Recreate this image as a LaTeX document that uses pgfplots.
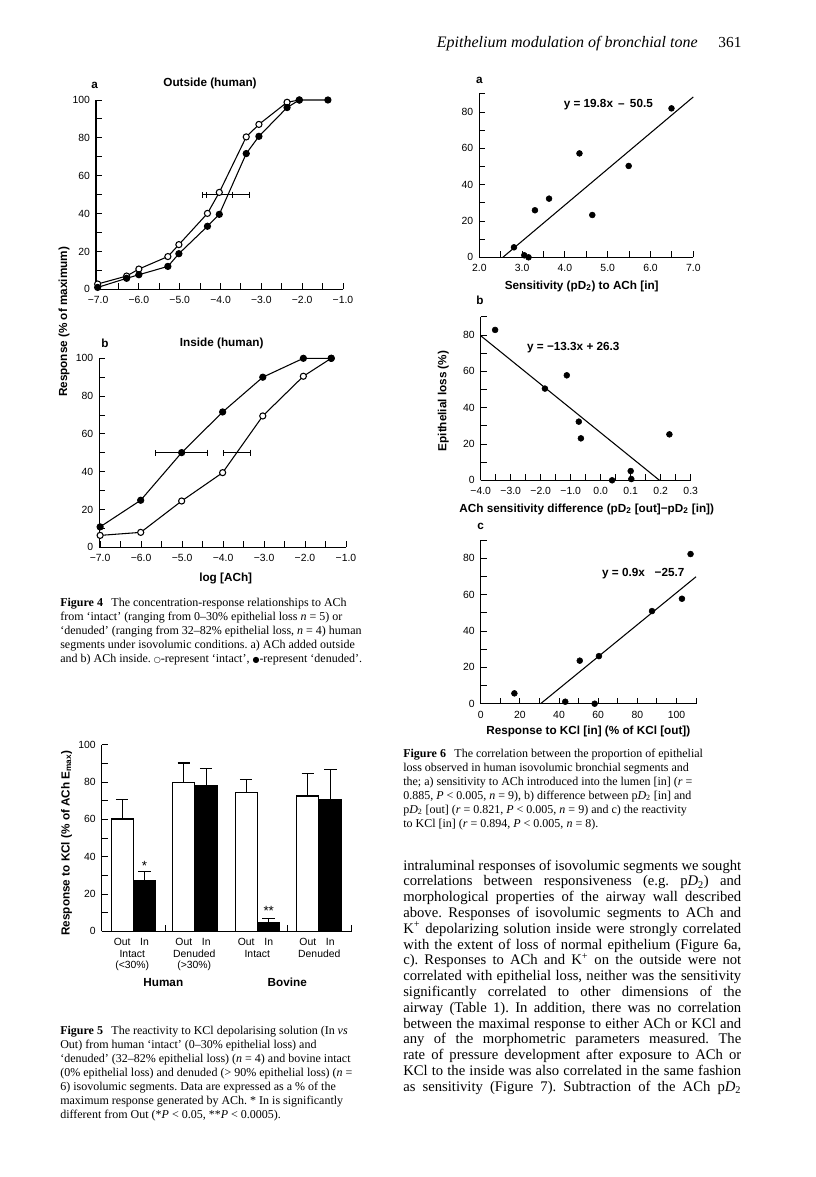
\documentclass[border=0pt]{standalone}
\usepackage{pgfplots}
\pgfplotsset{compat=1.18}
\usepackage{fontspec}
\setmainfont{Liberation Serif}
\setsansfont{Liberation Sans}
\newfontfamily\dejavu{DejaVu Sans}
\newcommand\tkf{\sffamily\fontsize{7.8}{9}\selectfont}
\newcommand\ttl{\sffamily\bfseries\fontsize{8.8}{10}\selectfont}
\pgfplotsset{
 base/.style={scale only axis, clip=false, anchor=south west,
   axis x line*=bottom, axis y line*=left,
   axis line style={-, line width=0.8pt},
   tick align=inside, major tick length=4.5pt, minor tick length=4.5pt,
   every tick/.append style={line width=0.7pt, black},
   tick label style={font=\tkf},
   xticklabel style={yshift=-2pt},
   yticklabel style={xshift=-1pt}},
 curve/.style={black, line width=0.8pt, mark=*, mark size=2.3pt},
 dots/.style={only marks, mark=*, mark size=2.2pt, black},
 reg/.style={black, line width=0.8pt, mark=none},
}
\frenchspacing
\begin{document}
\begin{tikzpicture}
\begin{scope}[x=0.75pt,y=-0.75pt]
\useasboundingbox (0,0) rectangle (816,1177);

% header
\node[anchor=base west, inner sep=0, font=\fontsize{12}{14}\selectfont\itshape] at (436.7,48) {Epithelium modulation of bronchial tone};
\node[anchor=base east, inner sep=0, font=\fontsize{11.5}{14}\selectfont] at (741.7,48) {361};

\node[font=\ttl] at (94.7,85) {a};
\node[font=\ttl] at (210,83.3) {Outside (human)};
\node[font=\ttl] at (105,343.3) {b};
\node[font=\ttl] at (221.7,343.3) {Inside (human)};
\node[font=\ttl] at (225.7,578.3) {log [ACh]};
\node[font=\ttl, rotate=90] at (64,322) {Response (\% of maximum)};

% caption 4
\node[anchor=base west, inner sep=0] at (60,606) {\begin{minipage}[t]{240pt}\raggedright\fontsize{9}{10.5}\selectfont
\textbf{Figure 4}\hspace{0.7em}The concentration-response relationships to ACh\\
from ‘intact’ (ranging from 0–30\% epithelial loss \textit{n} = 5) or\\
‘denuded’ (ranging from 32–82\% epithelial loss, \textit{n} = 4) human\\
segments under isovolumic conditions. a) ACh added outside\\
and b) ACh inside. {\dejavu\fontsize{6}{7}\selectfont ○}-represent ‘intact’, {\dejavu\fontsize{6}{7}\selectfont ●}-represent ‘denuded’.\end{minipage}};

\node[font=\ttl, rotate=90] at (66.7,843) {Response to KCl (\% of ACh E\textsubscript{max})};
\foreach \xo/\xi in {122.2/144.5, 183.8/206.2, 246.2/268.7, 307.8/330.3}{
  \node[font=\tkf] at (\xo,941.7) {Out};
  \node[font=\tkf] at (\xi,941.7) {In};}
\node[font=\tkf] at (132.3,954) {Intact};
\node[font=\tkf] at (132.3,965.7) {(<30\%)};
\node[font=\tkf] at (194.3,954) {Denuded};
\node[font=\tkf] at (194.3,965.7) {(>30\%)};
\node[font=\tkf] at (257.3,954) {Intact};
\node[font=\tkf] at (319.3,954) {Denuded};
\node[font=\ttl] at (163.3,982.3) {Human};
\node[font=\ttl] at (287.3,982.3) {Bovine};

% caption 5
\node[anchor=base west, inner sep=0] at (60,1034) {\begin{minipage}[t]{240pt}\raggedright\fontsize{9}{10.5}\selectfont
\textbf{Figure 5}\hspace{0.7em}The reactivity to KCl depolarising solution (In \textit{vs}\\
Out) from human ‘intact’ (0–30\% epithelial loss) and\\
‘denuded’ (32–82\% epithelial loss) (\textit{n} = 4) and bovine intact\\
(0\% epithelial loss) and denuded (> 90\% epithelial loss) (\textit{n} =\\
6) isovolumic segments. Data are expressed as a \% of the\\
maximum response generated by ACh. * In is significantly\\
different from Out (*\textit{P} < 0.05, **\textit{P} < 0.0005).\end{minipage}};

\node[font=\ttl] at (479.3,80.7) {a};
\node[font=\ttl] at (608.3,105) {y = 19.8x \,–\, 50.5};
\node[font=\ttl] at (581.7,286) {Sensitivity (pD\textsubscript{2}) to ACh [in]};
\node[font=\ttl] at (480,300) {b};
\node[font=\ttl] at (573.3,347.3) {y = −13.3x + 26.3};
\node[font=\ttl, rotate=90] at (443.3,401) {Epithelial loss (\%)};
\node[font=\ttl] at (586.7,509.3) {ACh sensitivity difference (pD\textsubscript{2} [out]−pD\textsubscript{2} [in])};
\node[font=\ttl] at (480.7,526.7) {c};
\node[font=\ttl] at (643.3,574) {y = 0.9x \ \ −25.7};
\node[font=\ttl] at (588.3,731.7) {Response to KCl [in] (\% of KCl [out])};

% caption 6
\node[anchor=base west, inner sep=0] at (403,757.5) {\begin{minipage}[t]{260pt}\raggedright\fontsize{9}{10.5}\selectfont
\textbf{Figure 6}\hspace{0.7em}The correlation between the proportion of epithelial\\
loss observed in human isovolumic bronchial segments and\\
the; a) sensitivity to ACh introduced into the lumen [in] (\textit{r} =\\
0.885, \textit{P} < 0.005, \textit{n} = 9), b) difference between p\textit{D}\textsubscript{2} [in] and\\
p\textit{D}\textsubscript{2} [out] (\textit{r} = 0.821, \textit{P} < 0.005, \textit{n} = 9) and c) the reactivity\\
to KCl [in] (\textit{r} = 0.894, \textit{P} < 0.005, \textit{n} = 8).\end{minipage}};

% body text
\node[anchor=base west, inner sep=0] at (403,870) {\begin{minipage}[t]{253.5pt}\fontsize{11}{11.85}\selectfont\parindent=0pt\parfillskip=0pt\spaceskip=0.25em plus 0.6em minus 0.08em
intraluminal responses of isovolumic segments we sought\linebreak
correlations between responsiveness (e.g. p\textit{D}\textsubscript{2}) and\linebreak
morphological properties of the airway wall described\linebreak
above. Responses of isovolumic segments to ACh and\linebreak
K\textsuperscript{+} depolarizing solution inside were strongly correlated\linebreak
with the extent of loss of normal epithelium (Figure 6a,\linebreak
c). Responses to ACh and K\textsuperscript{+} on the outside were not\linebreak
correlated with epithelial loss, neither was the sensitivity\linebreak
significantly correlated to other dimensions of the\linebreak
airway (Table 1). In addition, there was no correlation\linebreak
between the maximal response to either ACh or KCl and\linebreak
any of the morphometric parameters measured. The\linebreak
rate of pressure development after exposure to ACh or\linebreak
KCl to the inside was also correlated in the same fashion\linebreak
as sensitivity (Figure 7). Subtraction of the ACh p\textit{D}\textsubscript{2}\end{minipage}};
\end{scope}

% ---------------- Figure 4a
\begin{axis}[base, at={(96*0.75pt,-289.3*0.75pt)}, width=185.25pt, height=141.98pt,
  xmin=-7.05, xmax=-1, ymin=0, ymax=100,
  xtick={-7,-6,-5,-4,-3,-2,-1}, xticklabels={−7.0,−6.0,−5.0,−4.0,−3.0,−2.0,−1.0},
  minor xtick={-6.5,-5.5,-4.5,-3.5,-2.5,-1.5},
  ytick={0,20,40,60,80,100}, yticklabels={0,20,40,60,80,100},
  minor ytick={10,30,50,70,90}]
\addplot[draw=none, mark=none, forget plot, error bars/.cd, x dir=both, x explicit,
  error bar style={draw=black, line width=0.8pt},
  error mark options={draw=black, line width=0.8pt, mark size=2.3pt, rotate=90}]
  coordinates {(-4.07,50) +- (0.37,0) (-3.82,50) +- (0.52,0)};
\addplot[curve, mark options={fill=white}] coordinates {
 (-7.01,2.8) (-6.3,7) (-6.0,10.7) (-5.29,17.3) (-5.02,23.6) (-4.32,40.1) (-4.03,51.2)
 (-3.37,80.5) (-3.06,87.1) (-2.37,98.8) (-2.07,100)};
\addplot[curve, mark options={fill=black}] coordinates {
 (-7.01,1) (-6.3,5.8) (-6.0,7.7) (-5.29,12.1) (-5.02,18.8) (-4.32,33.3) (-4.03,39.6)
 (-3.37,71.7) (-3.06,80.8) (-2.37,96) (-2.07,100) (-1.37,100)};
\end{axis}

% ---------------- Figure 4b
\begin{axis}[base, at={(99.3*0.75pt,-547.3*0.75pt)}, width=185pt, height=141.75pt,
  xmin=-7.02, xmax=-1, ymin=0, ymax=100,
  xtick={-7,-6,-5,-4,-3,-2,-1}, xticklabels={−7.0,−6.0,−5.0,−4.0,−3.0,−2.0,−1.0},
  minor xtick={-6.5,-5.5,-4.5,-3.5,-2.5,-1.5},
  ytick={0,20,40,60,80,100}, yticklabels={0,20,40,60,80,100},
  minor ytick={10,30,50,70,90}]
\addplot[draw=none, mark=none, forget plot, error bars/.cd, x dir=both, x explicit,
  error bar style={draw=black, line width=0.8pt},
  error mark options={draw=black, line width=0.8pt, mark size=2.3pt, rotate=90}]
  coordinates {(-5.01,50) +- (0.63,0) (-3.665,50) +- (0.325,0)};
\addplot[curve, mark options={fill=white}] coordinates {
 (-7.0,6.3) (-6.01,7.9) (-5.01,24.5) (-4.01,39.5) (-3.03,69.5) (-2.04,90.5) (-1.36,100)};
\addplot[curve, mark options={fill=black}] coordinates {
 (-7.0,10.8) (-6.01,24.9) (-5.01,50.1) (-4.01,71.6) (-3.03,90) (-2.04,100) (-1.36,100)};
\end{axis}

% ---------------- Figure 5
\begin{axis}[base, at={(101.7*0.75pt,-931.3*0.75pt)}, width=187.5pt, height=139.95pt,
  xmin=0, xmax=250, ymin=0, ymax=100,
  xtick={63.3,185.6,250}, xticklabels={},
  ytick={0,20,40,60,80,100}, yticklabels={0,20,40,60,80,100},
  minor ytick={10,30,50,70,90}]
\addplot[ybar, bar width=22.3, bar shift=0pt, draw=black, fill=white, line width=0.8pt,
  error bars/.cd, y dir=plus, y explicit, error bar style={line width=0.8pt, black},
  error mark options={line width=0.8pt, mark size=4.7pt, rotate=90, black}]
  coordinates {(20.5,60.2) +- (0,10.2) (82.1,79.8) +- (0,10.4) (144.5,74.6) +- (0,7) (206.1,72.5) +- (0,12.3)};
\addplot[ybar, bar width=22.3, bar shift=0pt, draw=black, fill=black, line width=0.8pt,
  error bars/.cd, y dir=plus, y explicit, error bar style={line width=0.8pt, black},
  error mark options={line width=0.8pt, mark size=4.7pt, rotate=90, black}]
  coordinates {(42.8,27.1) +- (0,4.9) (104.5,78) +- (0,9.1) (167,4.6) +- (0,2.5) (228.6,70.5) +- (0,16.1)};
\node[font=\sffamily\fontsize{10}{10}\selectfont] at (axis cs:42.8,35.2) {*};
\node[font=\sffamily\fontsize{10}{10}\selectfont] at (axis cs:167,11.0) {**};
\end{axis}

% ---------------- Figure 6a
\begin{axis}[base, at={(479.3*0.75pt,-257.3*0.75pt)}, width=160.5pt, height=122.6pt,
  xmin=2, xmax=7, ymin=0, ymax=90,
  xtick={2,3,4,5,6,7}, xticklabels={2.0,3.0,4.0,5.0,6.0,7.0},
  minor xtick={2.5,3.5,4.5,5.5,6.5},
  ytick={0,20,40,60,80}, yticklabels={0,20,40,60,80},
  minor ytick={10,30,50,70,90}]
\addplot[reg] coordinates {(2.55,0) (7,88.3)};
\addplot[dots] coordinates {(2.81,5.5) (3.05,1.1) (3.15,0) (3.30,25.9) (3.63,32.3) (4.34,57.2) (4.64,23.3) (5.49,50.3) (6.49,82)};
\end{axis}

% ---------------- Figure 6b
\begin{axis}[base, at={(480.7*0.75pt,-480.3*0.75pt)}, width=157.5pt, height=122.6pt,
  xmin=-0.4, xmax=0.3, ymin=0, ymax=90,
  xtick={-0.4,-0.3,-0.2,-0.1,0,0.1,0.2,0.3}, xticklabels={−4.0,−3.0,−2.0,−1.0,0.0,0.1,0.2,0.3},
  minor xtick={-0.35,-0.25,-0.15,-0.05,0.05,0.15,0.25},
  ytick={0,20,40,60,80}, yticklabels={0,20,40,60,80},
  minor ytick={10,30,50,70,90}]
\addplot[reg] coordinates {(-0.4,79.6) (0.196,0)};
\addplot[dots] coordinates {(-0.352,82.8) (-0.186,50.5) (-0.113,57.8) (-0.073,32.3) (-0.066,23.1) (0.038,0) (0.1,5.1) (0.102,0.7) (0.229,25.3)};
\end{axis}

% ---------------- Figure 6c
\begin{axis}[base, at={(480.7*0.75pt,-703.7*0.75pt)}, width=161.5pt, height=122.6pt,
  xmin=0, xmax=110, ymin=0, ymax=90,
  xtick={0,20,40,60,80,100}, xticklabels={0,20,40,60,80,100},
  minor xtick={10,30,50,70,90,110},
  ytick={0,20,40,60,80}, yticklabels={0,20,40,60,80},
  minor ytick={10,30,50,70,90}]
\addplot[reg] coordinates {(30.6,0) (110,69.9)};
\addplot[dots] coordinates {(17.2,5.7) (43.2,1.1) (50.6,23.7) (60.4,26.2) (58.2,0) (87.5,51) (102.8,57.8) (107.2,82.4)};
\end{axis}
\end{tikzpicture}
\end{document}
